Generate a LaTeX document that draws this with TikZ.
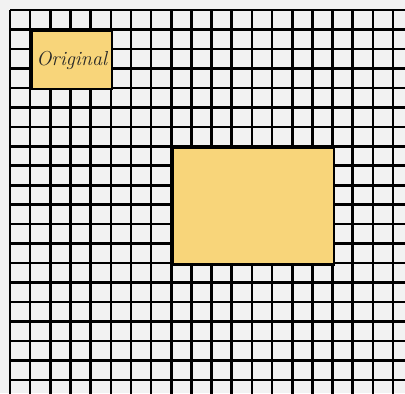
\documentclass[tikz,border=0pt]{standalone}
\usepackage{fontspec}
\definecolor{paper}{RGB}{242,242,242}
\definecolor{sticky}{RGB}{248,213,122}
\definecolor{ink}{RGB}{40,40,40}
\begin{document}
\begin{tikzpicture}[x=0.02cm,y=-0.02cm,declare function={cellX=20.16;cellY=19.47;}]
				\tikzset{
					grid line/.style={line width=1.45pt,color=black},
					sticky box/.style={draw=black,line width=1.45pt,fill=sticky,inner sep=0pt,anchor=north west}
				}
				\fill[paper] (0,0) rectangle (405,393);
				\useasboundingbox (0,0) rectangle (405,393);
				\clip (0,0) rectangle (405,393);
				\path
				(10,10) coordinate (O)
				(10 + cellX,10 + cellY) coordinate (Os)
				(10 + 8*cellX,10 + 7*cellY) coordinate (Bs);
				\foreach \i in {0,...,20}{
					\draw[grid line] (10 + \i*cellX,10) -- (10 + \i*cellX,400);
					\draw[grid line] (10,10 + \i*cellY) -- (410,10 + \i*cellY);
				}
				\node[sticky box,minimum width=4*cellX*0.02cm,minimum height=3*cellY*0.02cm] (orig) at (Os) {};
				\node[sticky box,minimum width=8*cellX*0.02cm,minimum height=6*cellY*0.02cm] (copy) at (Bs) {};
				\node[font=\itshape\fontsize{11.5}{12}\selectfont,text=ink] (label) at (orig.center) {Original};
			\end{tikzpicture}
\end{document}
